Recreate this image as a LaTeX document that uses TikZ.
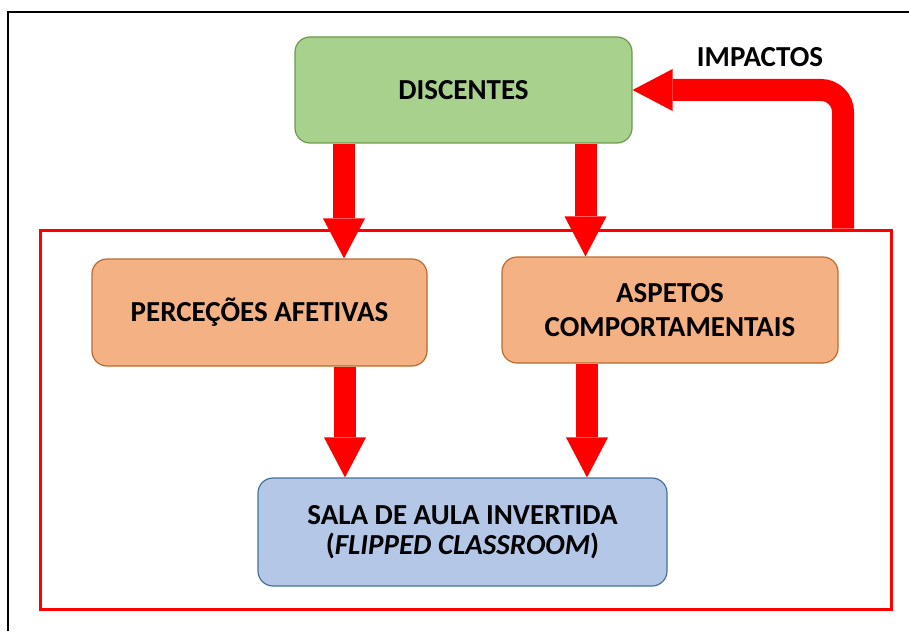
\documentclass[tikz,border=0pt]{standalone}
\usepackage{fontspec}
\setmainfont{Carlito}
\usetikzlibrary{arrows.meta}
\definecolor{gfill}{HTML}{A9D18E}
\definecolor{gline}{HTML}{6C9A4A}
\definecolor{ofill}{HTML}{F4B183}
\definecolor{oline}{HTML}{BD6A2E}
\definecolor{bfill}{HTML}{B4C7E7}
\definecolor{bline}{HTML}{41719C}
\definecolor{bigred}{HTML}{FF0000}
\tikzset{
  box/.style={draw, line width=1.2pt, rounded corners=15pt, align=center,
    font=\fontsize{29}{34}\selectfont\bfseries, inner sep=0pt},
  bigarrow/.style={draw=bigred, line width=22pt,
    -{Triangle[width=42pt,length=40pt,line width=0pt]}},
}
\begin{document}
\begin{tikzpicture}[x=1pt,y=-1pt]
\useasboundingbox (0,0) rectangle (909,631);
% outer black frame (partly cut off)
\draw[line width=2pt] (8,631) -- (8,12) -- (909,12);
% red frame
\node[draw=bigred, line width=3pt, minimum width=851pt, minimum height=379pt, inner sep=0pt]
  (frame) at (465.5,419.5) {};
% boxes
\node[box, fill=gfill, draw=gline, minimum width=337pt, minimum height=106pt]
  (disc) at (463.5,90) {DISCENTES};
\node[box, fill=ofill, draw=oline, minimum width=335pt, minimum height=107pt]
  (perc) at (259.5,312.5) {PERCEÇÕES AFETIVAS};
\node[box, fill=ofill, draw=oline, minimum width=336pt, minimum height=106pt]
  (asp) at (670,310) {ASPETOS\\COMPORTAMENTAIS};
\node[box, fill=bfill, draw=bline, minimum width=409pt, minimum height=108pt,
  font=\fontsize{29}{30}\selectfont\bfseries]
  (sala) at (462.5,532) {SALA DE AULA INVERTIDA\\(\textit{FLIPPED CLASSROOM})};
% helper x positions
\coordinate (xa) at (344,0);
\coordinate (xb) at (585.5,0);
\coordinate (xc) at (345,0);
\coordinate (xd) at (587,0);
\coordinate (xe) at (843,0);
% arrows
\draw[bigarrow] (disc.south -| xa) -- (perc.north -| xa);
\draw[bigarrow] (disc.south -| xb) -- (asp.north -| xb);
\draw[bigarrow] (perc.south -| xc) -- (sala.north -| xc);
\draw[bigarrow] (asp.south -| xd) -- (sala.north -| xd);
\coordinate (imp) at (frame.north -| xe);
\draw[bigarrow, rounded corners=22pt] (imp) |- (disc.east);
\node[font=\fontsize{29}{30}\selectfont\bfseries] (imptxt) at (760,57) {IMPACTOS};
\end{tikzpicture}
\end{document}
